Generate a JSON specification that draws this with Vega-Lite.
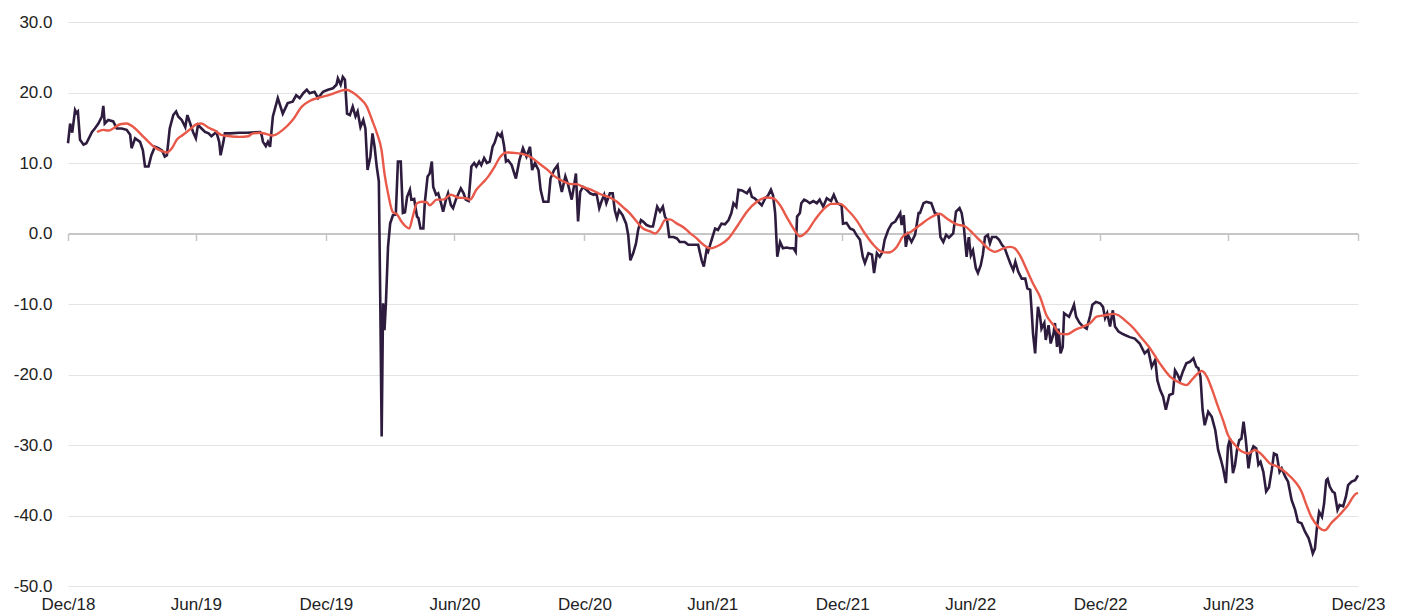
{
  "$schema": "https://vega.github.io/schema/vega-lite/v6.json",
  "width": 1290,
  "height": 564,
  "autosize": {"type": "none"},
  "padding": {"left": 68, "top": 22, "right": 47, "bottom": 30},
  "background": "white",
  "config": {
    "view": {"stroke": null},
    "font": "Liberation Sans",
    "axis": {"labelFont": "Liberation Sans", "labelColor": "#222222", "labelFontSize": 17}
  },
  "datasets": {
    "daily": [
      {"d":"2018-12-31","v":12.8},{"d":"2019-01-03","v":15.6},{"d":"2019-01-06","v":14.3},{"d":"2019-01-10","v":17.5},{"d":"2019-01-12","v":17.1},{"d":"2019-01-14","v":17.3},{"d":"2019-01-17","v":13.3},{"d":"2019-01-22","v":12.6},{"d":"2019-01-26","v":12.8},
      {"d":"2019-02-03","v":14.4},{"d":"2019-02-07","v":14.9},{"d":"2019-02-12","v":15.6},{"d":"2019-02-17","v":16.6},{"d":"2019-02-19","v":18.1},{"d":"2019-02-21","v":15.6},{"d":"2019-02-26","v":16.1},
      {"d":"2019-03-05","v":15.9},{"d":"2019-03-10","v":14.9},{"d":"2019-03-17","v":14.9},{"d":"2019-03-24","v":14.7},{"d":"2019-03-29","v":14.0},{"d":"2019-03-31","v":12.1},
      {"d":"2019-04-05","v":13.5},{"d":"2019-04-12","v":13.0},{"d":"2019-04-16","v":11.8},{"d":"2019-04-19","v":9.5},{"d":"2019-04-24","v":9.5},{"d":"2019-04-28","v":11.1},
      {"d":"2019-05-03","v":12.3},{"d":"2019-05-08","v":12.1},{"d":"2019-05-13","v":11.8},{"d":"2019-05-17","v":10.9},{"d":"2019-05-20","v":11.1},{"d":"2019-05-24","v":14.9},{"d":"2019-05-29","v":16.8},
      {"d":"2019-06-02","v":17.3},{"d":"2019-06-05","v":16.6},{"d":"2019-06-10","v":16.1},{"d":"2019-06-15","v":15.1},{"d":"2019-06-18","v":16.8},{"d":"2019-06-22","v":15.6},{"d":"2019-06-26","v":14.4},{"d":"2019-06-30","v":13.5},
      {"d":"2019-07-03","v":15.4},{"d":"2019-07-08","v":14.9},{"d":"2019-07-13","v":14.4},{"d":"2019-07-18","v":14.2},{"d":"2019-07-22","v":13.8},{"d":"2019-07-29","v":14.4},
      {"d":"2019-08-02","v":13.0},{"d":"2019-08-04","v":11.1},{"d":"2019-08-08","v":13.0},{"d":"2019-08-10","v":14.2},{"d":"2019-08-17","v":14.2},{"d":"2019-08-31","v":14.3},
      {"d":"2019-09-10","v":14.3},{"d":"2019-09-29","v":14.4},
      {"d":"2019-10-01","v":14.0},{"d":"2019-10-03","v":13.0},{"d":"2019-10-07","v":12.4},{"d":"2019-10-10","v":13.0},{"d":"2019-10-13","v":12.3},{"d":"2019-10-17","v":16.6},{"d":"2019-10-24","v":19.2},{"d":"2019-10-31","v":17.0},
      {"d":"2019-11-07","v":18.5},{"d":"2019-11-14","v":18.7},{"d":"2019-11-19","v":19.6},{"d":"2019-11-24","v":19.2},{"d":"2019-11-29","v":19.9},
      {"d":"2019-12-04","v":20.4},{"d":"2019-12-08","v":19.9},{"d":"2019-12-15","v":20.1},{"d":"2019-12-20","v":19.2},{"d":"2019-12-27","v":20.1},
      {"d":"2020-01-03","v":20.4},{"d":"2020-01-10","v":20.6},{"d":"2020-01-15","v":21.1},{"d":"2020-01-17","v":22.0},{"d":"2020-01-21","v":21.1},{"d":"2020-01-24","v":22.2},{"d":"2020-01-27","v":21.8},{"d":"2020-01-30","v":17.0},
      {"d":"2020-02-03","v":16.8},{"d":"2020-02-07","v":18.0},{"d":"2020-02-11","v":16.6},{"d":"2020-02-14","v":17.3},{"d":"2020-02-18","v":15.1},{"d":"2020-02-22","v":16.1},{"d":"2020-02-25","v":14.9},{"d":"2020-02-28","v":9.0},
      {"d":"2020-03-03","v":10.9},{"d":"2020-03-06","v":14.2},{"d":"2020-03-09","v":12.3},{"d":"2020-03-12","v":9.5},{"d":"2020-03-15","v":7.4},{"d":"2020-03-17","v":-9.4},{"d":"2020-03-19","v":-28.8},{"d":"2020-03-21","v":-9.9},{"d":"2020-03-23","v":-13.7},{"d":"2020-03-25","v":-9.9},{"d":"2020-03-28","v":-1.9},{"d":"2020-03-31","v":1.4},
      {"d":"2020-04-04","v":2.6},{"d":"2020-04-08","v":2.7},{"d":"2020-04-11","v":10.2},{"d":"2020-04-15","v":10.2},{"d":"2020-04-18","v":2.9},{"d":"2020-04-21","v":3.0},{"d":"2020-04-24","v":5.2},{"d":"2020-04-28","v":6.2},{"d":"2020-04-30","v":4.8},
      {"d":"2020-05-04","v":4.9},{"d":"2020-05-08","v":2.4},{"d":"2020-05-10","v":2.2},{"d":"2020-05-13","v":0.7},{"d":"2020-05-17","v":0.7},{"d":"2020-05-19","v":4.3},{"d":"2020-05-23","v":8.1},{"d":"2020-05-26","v":8.5},{"d":"2020-05-29","v":10.2},{"d":"2020-05-31","v":6.6},
      {"d":"2020-06-04","v":5.5},{"d":"2020-06-07","v":5.7},{"d":"2020-06-11","v":4.3},{"d":"2020-06-14","v":3.1},{"d":"2020-06-18","v":4.8},{"d":"2020-06-21","v":5.7},{"d":"2020-06-25","v":4.0},{"d":"2020-06-28","v":3.6},
      {"d":"2020-07-02","v":4.8},{"d":"2020-07-05","v":5.5},{"d":"2020-07-09","v":6.4},{"d":"2020-07-13","v":5.7},{"d":"2020-07-16","v":4.8},{"d":"2020-07-20","v":4.6},{"d":"2020-07-24","v":9.5},{"d":"2020-07-28","v":10.0},{"d":"2020-07-31","v":9.5},
      {"d":"2020-08-04","v":10.2},{"d":"2020-08-07","v":9.7},{"d":"2020-08-11","v":10.7},{"d":"2020-08-15","v":10.0},{"d":"2020-08-19","v":10.2},{"d":"2020-08-23","v":12.3},{"d":"2020-08-26","v":12.9},{"d":"2020-08-30","v":14.2},
      {"d":"2020-09-03","v":13.8},{"d":"2020-09-05","v":14.2},{"d":"2020-09-08","v":12.6},{"d":"2020-09-11","v":10.2},{"d":"2020-09-14","v":10.4},{"d":"2020-09-19","v":9.7},{"d":"2020-09-25","v":7.8},{"d":"2020-09-30","v":10.4},
      {"d":"2020-10-05","v":12.1},{"d":"2020-10-10","v":10.9},{"d":"2020-10-15","v":12.3},{"d":"2020-10-18","v":9.0},{"d":"2020-10-22","v":10.0},{"d":"2020-10-27","v":9.0},{"d":"2020-10-30","v":6.2},
      {"d":"2020-11-03","v":4.5},{"d":"2020-11-10","v":4.5},{"d":"2020-11-13","v":7.8},{"d":"2020-11-18","v":9.0},{"d":"2020-11-23","v":9.7},{"d":"2020-11-26","v":7.3},{"d":"2020-11-29","v":5.9},
      {"d":"2020-12-04","v":8.1},{"d":"2020-12-08","v":6.9},{"d":"2020-12-13","v":4.8},{"d":"2020-12-16","v":6.6},{"d":"2020-12-19","v":8.5},{"d":"2020-12-22","v":1.7},{"d":"2020-12-25","v":5.9},{"d":"2020-12-29","v":6.6},
      {"d":"2021-01-03","v":6.2},{"d":"2021-01-08","v":5.7},{"d":"2021-01-13","v":5.5},{"d":"2021-01-17","v":5.7},{"d":"2021-01-21","v":3.6},{"d":"2021-01-24","v":4.5},{"d":"2021-01-28","v":5.5},{"d":"2021-01-31","v":4.3},
      {"d":"2021-02-05","v":5.7},{"d":"2021-02-09","v":5.7},{"d":"2021-02-12","v":3.3},{"d":"2021-02-15","v":2.2},{"d":"2021-02-18","v":3.3},{"d":"2021-02-23","v":2.6},{"d":"2021-02-28","v":1.4},
      {"d":"2021-03-03","v":-0.2},{"d":"2021-03-06","v":-3.8},{"d":"2021-03-10","v":-2.8},{"d":"2021-03-14","v":-1.4},{"d":"2021-03-17","v":0.5},{"d":"2021-03-21","v":1.9},{"d":"2021-03-24","v":1.7},{"d":"2021-03-29","v":1.2},
      {"d":"2021-04-03","v":1.0},{"d":"2021-04-07","v":1.0},{"d":"2021-04-10","v":2.4},{"d":"2021-04-13","v":3.8},{"d":"2021-04-17","v":3.1},{"d":"2021-04-21","v":3.8},{"d":"2021-04-24","v":2.4},{"d":"2021-04-27","v":1.9},{"d":"2021-04-30","v":-0.5},
      {"d":"2021-05-06","v":-0.5},{"d":"2021-05-11","v":-0.7},{"d":"2021-05-15","v":-1.2},{"d":"2021-05-22","v":-1.2},{"d":"2021-05-27","v":-1.6},
      {"d":"2021-06-03","v":-1.6},{"d":"2021-06-10","v":-1.6},{"d":"2021-06-12","v":-2.5},{"d":"2021-06-15","v":-3.8},{"d":"2021-06-18","v":-4.7},{"d":"2021-06-22","v":-2.3},{"d":"2021-06-24","v":-2.6},{"d":"2021-06-29","v":-0.9},
      {"d":"2021-07-04","v":0.7},{"d":"2021-07-08","v":0.5},{"d":"2021-07-13","v":1.4},{"d":"2021-07-18","v":1.3},{"d":"2021-07-23","v":1.9},{"d":"2021-07-27","v":2.9},{"d":"2021-07-30","v":4.3},
      {"d":"2021-08-03","v":3.8},{"d":"2021-08-06","v":6.2},{"d":"2021-08-11","v":6.1},{"d":"2021-08-18","v":5.7},{"d":"2021-08-22","v":6.3},{"d":"2021-08-25","v":5.2},{"d":"2021-08-29","v":5.0},
      {"d":"2021-09-03","v":4.5},{"d":"2021-09-08","v":4.0},{"d":"2021-09-13","v":5.0},{"d":"2021-09-17","v":5.4},{"d":"2021-09-21","v":6.2},{"d":"2021-09-24","v":5.4},{"d":"2021-09-27","v":2.9},{"d":"2021-09-30","v":-3.3},
      {"d":"2021-10-04","v":-1.2},{"d":"2021-10-08","v":-2.1},{"d":"2021-10-13","v":-2.0},{"d":"2021-10-18","v":-2.1},{"d":"2021-10-23","v":-2.1},{"d":"2021-10-26","v":-2.6},{"d":"2021-10-28","v":2.4},
      {"d":"2021-11-01","v":2.9},{"d":"2021-11-03","v":4.3},{"d":"2021-11-07","v":4.8},{"d":"2021-11-11","v":4.6},{"d":"2021-11-15","v":4.3},{"d":"2021-11-20","v":4.6},{"d":"2021-11-25","v":4.3},{"d":"2021-11-29","v":4.8},
      {"d":"2021-12-04","v":3.8},{"d":"2021-12-09","v":5.0},{"d":"2021-12-15","v":4.6},{"d":"2021-12-19","v":5.5},{"d":"2021-12-24","v":4.3},{"d":"2021-12-30","v":4.0},
      {"d":"2022-01-01","v":1.4},{"d":"2022-01-06","v":1.5},{"d":"2022-01-11","v":0.7},{"d":"2022-01-16","v":0.5},{"d":"2022-01-20","v":-0.2},{"d":"2022-01-25","v":-0.9},{"d":"2022-01-29","v":-3.3},
      {"d":"2022-02-01","v":-4.2},{"d":"2022-02-06","v":-2.8},{"d":"2022-02-11","v":-3.0},{"d":"2022-02-14","v":-5.6},{"d":"2022-02-18","v":-2.8},{"d":"2022-02-22","v":-3.3},{"d":"2022-02-26","v":-2.6},
      {"d":"2022-03-01","v":-0.9},{"d":"2022-03-06","v":0.5},{"d":"2022-03-11","v":1.4},{"d":"2022-03-16","v":1.7},{"d":"2022-03-20","v":2.4},{"d":"2022-03-23","v":2.9},{"d":"2022-03-25","v":1.2},{"d":"2022-03-28","v":2.6},{"d":"2022-03-31","v":-1.9},
      {"d":"2022-04-03","v":-0.2},{"d":"2022-04-08","v":-1.2},{"d":"2022-04-13","v":-0.2},{"d":"2022-04-18","v":2.9},{"d":"2022-04-20","v":2.9},{"d":"2022-04-25","v":4.3},{"d":"2022-04-29","v":4.5},
      {"d":"2022-05-06","v":4.3},{"d":"2022-05-11","v":2.9},{"d":"2022-05-16","v":2.7},{"d":"2022-05-19","v":-0.5},{"d":"2022-05-23","v":-1.2},{"d":"2022-05-27","v":-0.2},{"d":"2022-05-31","v":-0.6},
      {"d":"2022-06-06","v":0.0},{"d":"2022-06-10","v":3.1},{"d":"2022-06-15","v":3.6},{"d":"2022-06-18","v":2.9},{"d":"2022-06-21","v":1.0},{"d":"2022-06-25","v":-3.3},{"d":"2022-06-28","v":-0.5},
      {"d":"2022-07-01","v":-3.1},{"d":"2022-07-04","v":-2.4},{"d":"2022-07-08","v":-4.9},{"d":"2022-07-11","v":-5.6},{"d":"2022-07-15","v":-4.5},{"d":"2022-07-18","v":-3.0},{"d":"2022-07-21","v":-0.5},{"d":"2022-07-25","v":-0.2},{"d":"2022-07-28","v":-1.4},{"d":"2022-07-31","v":-0.5},
      {"d":"2022-08-06","v":-0.5},{"d":"2022-08-10","v":-0.9},{"d":"2022-08-14","v":-1.6},{"d":"2022-08-18","v":-2.1},{"d":"2022-08-23","v":-3.5},{"d":"2022-08-26","v":-4.3},{"d":"2022-08-30","v":-5.2},
      {"d":"2022-09-02","v":-4.0},{"d":"2022-09-06","v":-5.4},{"d":"2022-09-11","v":-6.4},{"d":"2022-09-16","v":-6.4},{"d":"2022-09-19","v":-7.8},{"d":"2022-09-23","v":-8.0},{"d":"2022-09-25","v":-10.9},{"d":"2022-09-27","v":-14.2},{"d":"2022-09-30","v":-17.0},
      {"d":"2022-10-02","v":-13.5},{"d":"2022-10-04","v":-10.4},{"d":"2022-10-07","v":-11.8},{"d":"2022-10-09","v":-13.5},{"d":"2022-10-13","v":-12.7},{"d":"2022-10-15","v":-15.1},{"d":"2022-10-19","v":-13.0},{"d":"2022-10-22","v":-15.6},{"d":"2022-10-26","v":-14.2},{"d":"2022-10-28","v":-12.7},{"d":"2022-10-31","v":-16.1},
      {"d":"2022-11-02","v":-13.5},{"d":"2022-11-05","v":-17.0},{"d":"2022-11-08","v":-16.1},{"d":"2022-11-10","v":-11.3},{"d":"2022-11-14","v":-11.6},{"d":"2022-11-17","v":-11.8},{"d":"2022-11-21","v":-10.9},{"d":"2022-11-24","v":-10.1},{"d":"2022-11-27","v":-11.8},
      {"d":"2022-12-02","v":-12.7},{"d":"2022-12-07","v":-13.2},{"d":"2022-12-12","v":-13.5},{"d":"2022-12-17","v":-11.6},{"d":"2022-12-20","v":-10.1},{"d":"2022-12-25","v":-9.7},{"d":"2022-12-31","v":-9.9},
      {"d":"2023-01-04","v":-10.4},{"d":"2023-01-07","v":-12.0},{"d":"2023-01-10","v":-11.3},{"d":"2023-01-14","v":-13.2},{"d":"2023-01-18","v":-10.9},{"d":"2023-01-21","v":-13.2},{"d":"2023-01-26","v":-13.9},{"d":"2023-01-31","v":-14.2},
      {"d":"2023-02-04","v":-14.4},{"d":"2023-02-11","v":-14.7},{"d":"2023-02-18","v":-14.9},{"d":"2023-02-25","v":-15.6},
      {"d":"2023-03-04","v":-17.0},{"d":"2023-03-09","v":-16.5},{"d":"2023-03-14","v":-18.9},{"d":"2023-03-19","v":-17.9},{"d":"2023-03-22","v":-20.8},{"d":"2023-03-26","v":-22.2},{"d":"2023-03-30","v":-23.1},
      {"d":"2023-04-03","v":-25.0},{"d":"2023-04-08","v":-22.9},{"d":"2023-04-13","v":-22.7},{"d":"2023-04-16","v":-19.4},{"d":"2023-04-19","v":-19.9},{"d":"2023-04-23","v":-20.8},{"d":"2023-04-27","v":-19.6},
      {"d":"2023-05-02","v":-18.4},{"d":"2023-05-07","v":-18.2},{"d":"2023-05-12","v":-17.7},{"d":"2023-05-16","v":-18.9},{"d":"2023-05-19","v":-19.1},{"d":"2023-05-22","v":-20.3},{"d":"2023-05-25","v":-25.0},{"d":"2023-05-28","v":-27.2},
      {"d":"2023-06-02","v":-25.3},{"d":"2023-06-07","v":-26.0},{"d":"2023-06-12","v":-27.9},{"d":"2023-06-16","v":-30.7},{"d":"2023-06-20","v":-32.1},{"d":"2023-06-23","v":-33.3},{"d":"2023-06-27","v":-35.4},{"d":"2023-06-30","v":-30.2},
      {"d":"2023-07-03","v":-29.1},{"d":"2023-07-07","v":-34.0},{"d":"2023-07-10","v":-32.8},{"d":"2023-07-13","v":-30.5},{"d":"2023-07-16","v":-29.3},{"d":"2023-07-19","v":-29.1},{"d":"2023-07-22","v":-26.7},{"d":"2023-07-25","v":-29.1},{"d":"2023-07-29","v":-33.3},
      {"d":"2023-08-01","v":-31.2},{"d":"2023-08-05","v":-30.2},{"d":"2023-08-09","v":-30.5},{"d":"2023-08-12","v":-32.8},{"d":"2023-08-15","v":-32.4},{"d":"2023-08-19","v":-33.8},{"d":"2023-08-23","v":-36.6},{"d":"2023-08-27","v":-36.0},{"d":"2023-08-31","v":-33.5},
      {"d":"2023-09-03","v":-31.2},{"d":"2023-09-07","v":-31.4},{"d":"2023-09-11","v":-33.8},{"d":"2023-09-14","v":-33.3},{"d":"2023-09-19","v":-34.5},{"d":"2023-09-23","v":-35.2},{"d":"2023-09-28","v":-37.8},
      {"d":"2023-10-03","v":-39.2},{"d":"2023-10-07","v":-40.9},{"d":"2023-10-12","v":-41.1},{"d":"2023-10-17","v":-42.3},{"d":"2023-10-22","v":-43.2},{"d":"2023-10-25","v":-44.2},{"d":"2023-10-28","v":-45.4},{"d":"2023-10-31","v":-44.7},
      {"d":"2023-11-03","v":-41.6},{"d":"2023-11-06","v":-39.5},{"d":"2023-11-10","v":-40.2},{"d":"2023-11-13","v":-38.3},{"d":"2023-11-16","v":-35.0},{"d":"2023-11-18","v":-34.8},{"d":"2023-11-21","v":-35.9},{"d":"2023-11-25","v":-36.6},{"d":"2023-11-28","v":-36.8},
      {"d":"2023-12-02","v":-39.2},{"d":"2023-12-05","v":-38.5},{"d":"2023-12-10","v":-38.7},{"d":"2023-12-14","v":-37.3},{"d":"2023-12-17","v":-35.7},{"d":"2023-12-22","v":-35.2},{"d":"2023-12-27","v":-35.0},{"d":"2023-12-31","v":-34.3}
    ],
    "avg": [
      {"d":"2019-02-10","v":14.4},{"d":"2019-02-19","v":14.7},{"d":"2019-02-26","v":14.6},{"d":"2019-03-05","v":14.9},{"d":"2019-03-15","v":15.5},{"d":"2019-03-24","v":15.6},{"d":"2019-03-29","v":15.4},
      {"d":"2019-04-05","v":14.9},{"d":"2019-04-14","v":14.0},{"d":"2019-04-24","v":13.0},{"d":"2019-05-03","v":12.2},{"d":"2019-05-13","v":11.7},{"d":"2019-05-20","v":11.5},{"d":"2019-05-27","v":12.1},
      {"d":"2019-06-03","v":13.3},{"d":"2019-06-12","v":14.0},{"d":"2019-06-22","v":14.8},{"d":"2019-07-01","v":15.5},{"d":"2019-07-08","v":15.6},{"d":"2019-07-18","v":15.0},{"d":"2019-07-27","v":14.6},
      {"d":"2019-08-05","v":14.0},{"d":"2019-08-17","v":13.8},{"d":"2019-08-31","v":13.7},{"d":"2019-09-12","v":13.8},{"d":"2019-09-19","v":14.2},{"d":"2019-09-29","v":14.3},{"d":"2019-10-08","v":14.1},{"d":"2019-10-17","v":13.9},
      {"d":"2019-10-31","v":14.7},{"d":"2019-11-14","v":16.1},{"d":"2019-11-27","v":18.0},{"d":"2019-12-08","v":18.8},{"d":"2019-12-23","v":19.3},
      {"d":"2020-01-06","v":19.7},{"d":"2020-01-20","v":20.2},{"d":"2020-01-29","v":20.4},{"d":"2020-02-07","v":20.0},{"d":"2020-02-17","v":19.2},{"d":"2020-02-27","v":18.0},
      {"d":"2020-03-05","v":16.2},{"d":"2020-03-12","v":14.3},{"d":"2020-03-19","v":11.7},{"d":"2020-03-23","v":8.5},{"d":"2020-03-28","v":5.7},{"d":"2020-04-04","v":3.0},{"d":"2020-04-09","v":2.8},{"d":"2020-04-16","v":1.7},{"d":"2020-04-22","v":1.0},{"d":"2020-04-27","v":0.7},
      {"d":"2020-05-02","v":2.4},{"d":"2020-05-08","v":4.3},{"d":"2020-05-15","v":4.5},{"d":"2020-05-22","v":4.4},{"d":"2020-05-26","v":4.0},{"d":"2020-06-05","v":4.8},{"d":"2020-06-14","v":4.8},{"d":"2020-06-25","v":5.5},
      {"d":"2020-07-05","v":5.1},{"d":"2020-07-17","v":5.0},{"d":"2020-07-22","v":4.8},{"d":"2020-07-31","v":6.2},{"d":"2020-08-12","v":7.5},{"d":"2020-08-17","v":8.1},{"d":"2020-08-26","v":9.5},
      {"d":"2020-09-03","v":10.9},{"d":"2020-09-12","v":11.5},{"d":"2020-09-26","v":11.4},{"d":"2020-10-08","v":11.2},{"d":"2020-10-18","v":10.7},{"d":"2020-10-27","v":10.0},{"d":"2020-11-08","v":9.1},{"d":"2020-11-19","v":8.1},
      {"d":"2020-12-01","v":7.4},{"d":"2020-12-13","v":7.0},{"d":"2020-12-20","v":7.0},{"d":"2020-12-29","v":6.6},
      {"d":"2021-01-10","v":6.2},{"d":"2021-01-22","v":5.6},{"d":"2021-02-05","v":5.1},{"d":"2021-02-15","v":4.5},{"d":"2021-02-24","v":3.7},{"d":"2021-03-05","v":2.9},{"d":"2021-03-15","v":1.7},{"d":"2021-03-24","v":0.7},
      {"d":"2021-04-03","v":0.3},{"d":"2021-04-10","v":0.0},{"d":"2021-04-17","v":0.7},{"d":"2021-04-24","v":1.9},{"d":"2021-05-01","v":2.0},{"d":"2021-05-11","v":1.4},{"d":"2021-05-20","v":0.9},{"d":"2021-05-29","v":0.1},
      {"d":"2021-06-08","v":-0.7},{"d":"2021-06-13","v":-1.2},{"d":"2021-06-27","v":-2.1},{"d":"2021-07-11","v":-1.6},{"d":"2021-07-23","v":-0.7},{"d":"2021-08-04","v":1.0},{"d":"2021-08-18","v":3.1},
      {"d":"2021-09-01","v":4.5},{"d":"2021-09-15","v":5.1},{"d":"2021-09-24","v":5.0},{"d":"2021-10-04","v":4.0},{"d":"2021-10-13","v":2.4},{"d":"2021-10-23","v":0.7},{"d":"2021-11-01","v":-0.4},{"d":"2021-11-11","v":0.3},{"d":"2021-11-22","v":1.9},
      {"d":"2021-12-04","v":3.4},{"d":"2021-12-16","v":4.2},{"d":"2021-12-28","v":4.2},
      {"d":"2022-01-08","v":3.3},{"d":"2022-01-20","v":1.9},{"d":"2022-02-01","v":0.0},{"d":"2022-02-13","v":-1.6},{"d":"2022-02-25","v":-2.6},{"d":"2022-03-06","v":-2.7},{"d":"2022-03-18","v":-1.9},{"d":"2022-03-27","v":-0.4},
      {"d":"2022-04-08","v":0.3},{"d":"2022-04-20","v":1.2},{"d":"2022-05-04","v":2.2},{"d":"2022-05-18","v":2.8},{"d":"2022-05-27","v":2.2},{"d":"2022-06-11","v":1.3},{"d":"2022-06-23","v":1.0},
      {"d":"2022-07-04","v":0.0},{"d":"2022-07-16","v":-1.2},{"d":"2022-07-28","v":-2.3},{"d":"2022-08-04","v":-2.6},{"d":"2022-08-16","v":-2.1},{"d":"2022-08-26","v":-1.9},{"d":"2022-09-01","v":-2.1},{"d":"2022-09-08","v":-3.0},
      {"d":"2022-09-17","v":-4.9},{"d":"2022-09-27","v":-7.1},{"d":"2022-10-07","v":-9.0},{"d":"2022-10-16","v":-11.6},{"d":"2022-10-26","v":-13.0},{"d":"2022-11-04","v":-14.2},{"d":"2022-11-14","v":-14.3},{"d":"2022-11-25","v":-13.7},
      {"d":"2022-12-07","v":-13.2},{"d":"2022-12-17","v":-12.7},{"d":"2022-12-26","v":-11.8},
      {"d":"2023-01-07","v":-11.6},{"d":"2023-01-19","v":-11.4},{"d":"2023-01-26","v":-11.6},{"d":"2023-02-04","v":-12.3},{"d":"2023-02-16","v":-13.4},{"d":"2023-02-25","v":-14.5},{"d":"2023-03-11","v":-16.2},{"d":"2023-03-26","v":-18.5},
      {"d":"2023-04-09","v":-20.3},{"d":"2023-04-23","v":-21.2},{"d":"2023-05-02","v":-21.5},{"d":"2023-05-12","v":-20.5},{"d":"2023-05-24","v":-19.5},{"d":"2023-05-31","v":-20.3},
      {"d":"2023-06-07","v":-22.0},{"d":"2023-06-16","v":-24.6},{"d":"2023-06-23","v":-26.5},{"d":"2023-06-30","v":-28.6},{"d":"2023-07-10","v":-30.0},{"d":"2023-07-19","v":-30.9},{"d":"2023-07-29","v":-31.2},
      {"d":"2023-08-07","v":-30.7},{"d":"2023-08-17","v":-31.4},{"d":"2023-08-28","v":-32.6},{"d":"2023-09-09","v":-33.1},{"d":"2023-09-21","v":-34.0},{"d":"2023-10-03","v":-35.2},{"d":"2023-10-12","v":-36.6},
      {"d":"2023-10-19","v":-38.5},{"d":"2023-10-26","v":-40.2},{"d":"2023-11-05","v":-41.6},{"d":"2023-11-14","v":-42.1},{"d":"2023-11-23","v":-41.1},{"d":"2023-12-05","v":-39.9},{"d":"2023-12-17","v":-38.5},{"d":"2023-12-27","v":-37.0},{"d":"2023-12-31","v":-36.8}
    ]
  },
  "encoding": {
    "y": {
      "field": "v",
      "type": "quantitative",
      "scale": {"domain": [-50, 30], "nice": false, "zero": false},
      "axis": {
        "values": [-50, -40, -30, -20, -10, 0, 10, 20, 30],
        "labelExpr": "(datum.value < 0 ? '-' : '') + format(abs(datum.value), '.1f')",
        "title": null,
        "domain": false,
        "ticks": false,
        "grid": true,
        "gridColor": "#e3e3e3",
        "gridWidth": 1,
        "labelPadding": 16,
        "labelFontSize": 17,
        "labelColor": "#222222"
      }
    }
  },
  "layer": [
    {
      "data": {"name": "daily"},
      "mark": {"type": "line", "color": "#2e1c3e", "strokeWidth": 2.6},
      "encoding": {
        "x": {
          "field": "d",
          "type": "temporal",
          "scale": {"type": "utc", "domain": [{"year": 2018, "month": 12, "date": 31, "utc": true}, {"year": 2023, "month": 12, "date": 31, "utc": true}]},
          "axis": {
            "orient": "bottom",
            "title": null,
            "values": [
              {"year": 2018, "month": 12, "date": 31, "utc": true},
              {"year": 2019, "month": 6, "date": 30, "utc": true},
              {"year": 2019, "month": 12, "date": 31, "utc": true},
              {"year": 2020, "month": 6, "date": 30, "utc": true},
              {"year": 2020, "month": 12, "date": 31, "utc": true},
              {"year": 2021, "month": 6, "date": 30, "utc": true},
              {"year": 2021, "month": 12, "date": 31, "utc": true},
              {"year": 2022, "month": 6, "date": 30, "utc": true},
              {"year": 2022, "month": 12, "date": 31, "utc": true},
              {"year": 2023, "month": 6, "date": 30, "utc": true},
              {"year": 2023, "month": 12, "date": 31, "utc": true}
            ],
            "format": "%b/%y",
            "domain": false,
            "ticks": false,
            "grid": false,
            "labelPadding": 10,
            "labelFontSize": 17,
            "labelColor": "#222222",
            "labelFlush": false,
            "labelOverlap": false
          }
        }
      }
    },
    {
      "data": {"name": "avg"},
      "mark": {"type": "line", "color": "#e8594a", "strokeWidth": 2.4, "interpolate": "monotone"},
      "encoding": {
        "x": {
          "field": "d",
          "type": "temporal",
          "scale": {"type": "utc", "domain": [{"year": 2018, "month": 12, "date": 31, "utc": true}, {"year": 2023, "month": 12, "date": 31, "utc": true}]},
          "axis": {
            "orient": "top",
            "offset": -211.5,
            "title": null,
            "labels": false,
            "values": [
              {"year": 2018, "month": 12, "date": 31, "utc": true},
              {"year": 2019, "month": 6, "date": 30, "utc": true},
              {"year": 2019, "month": 12, "date": 31, "utc": true},
              {"year": 2020, "month": 6, "date": 30, "utc": true},
              {"year": 2020, "month": 12, "date": 31, "utc": true},
              {"year": 2021, "month": 6, "date": 30, "utc": true},
              {"year": 2021, "month": 12, "date": 31, "utc": true},
              {"year": 2022, "month": 6, "date": 30, "utc": true},
              {"year": 2022, "month": 12, "date": 31, "utc": true},
              {"year": 2023, "month": 6, "date": 30, "utc": true},
              {"year": 2023, "month": 12, "date": 31, "utc": true}
            ],
            "domain": true,
            "domainColor": "#c6c6c6",
            "domainWidth": 2,
            "ticks": true,
            "tickColor": "#c6c6c6",
            "tickWidth": 1.5,
            "tickSize": -7,
            "grid": false
          }
        }
      }
    }
  ],
  "resolve": {"axis": {"x": "independent"}}
}
